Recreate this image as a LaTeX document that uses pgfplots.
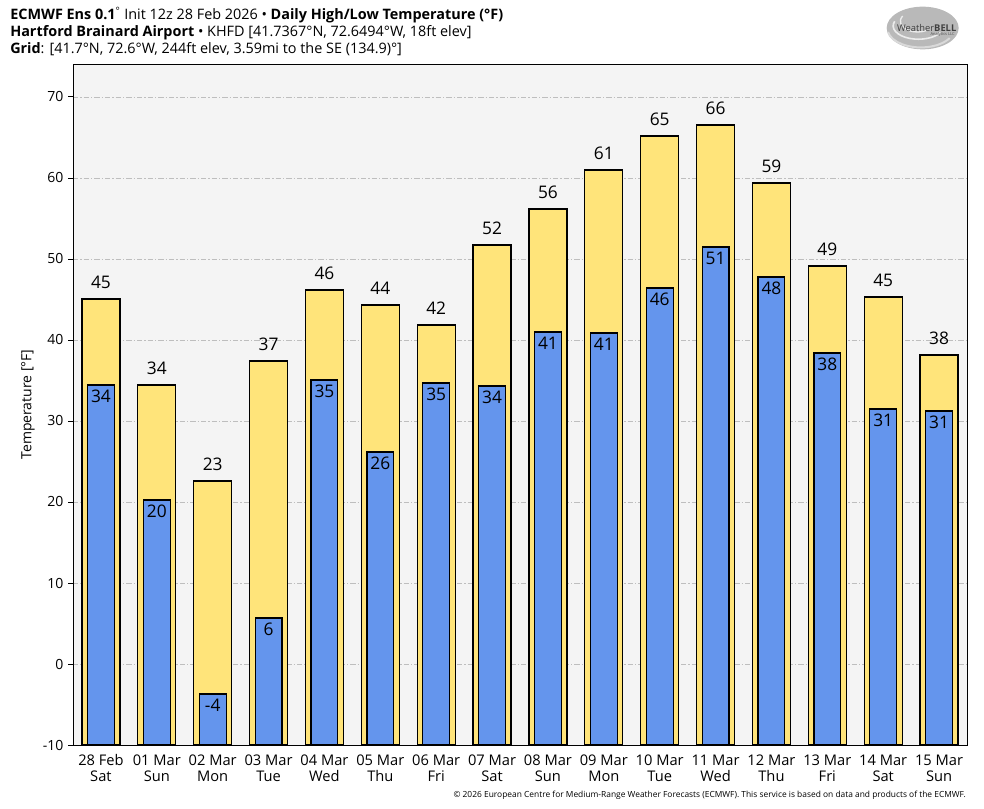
\documentclass[border=0pt]{standalone}
\usepackage{pgfplots}
\pgfplotsset{compat=1.18}
\usepackage{pgfplotstable}
\usepackage{fontspec}
\setmainfont{Open Sans}

\definecolor{hiyellow}{RGB}{255,228,122}
\definecolor{loblue}{RGB}{100,149,237}
\definecolor{bggray}{RGB}{244,244,244}
\definecolor{gridgray}{RGB}{190,190,190}

% daily high / low, degF, with the printed labels
\pgfplotstableread{
x high low hlab llab
0 45.06 34.45 45 34
1 34.45 20.25 34 20
2 22.59 -3.70 23 -4
3 37.41 5.68 37 6
4 46.17 35.06 46 35
5 44.32 26.17 44 26
6 41.85 34.69 42 35
7 51.73 34.32 52 34
8 56.17 40.99 56 41
9 60.99 40.86 61 41
10 65.19 46.42 65 46
11 66.54 51.48 66 51
12 59.38 47.78 59 48
13 49.14 38.40 49 38
14 45.31 31.48 45 31
15 38.15 31.23 38 31
}\tempdata

\begin{document}
\begin{tikzpicture}
\useasboundingbox (0pt,0pt) rectangle (738pt,606pt);

% titles
\node[anchor=base west, inner sep=0, font=\fontsize{10.8}{12}\selectfont] at (7.5pt,591pt)
  {\textbf{ECMWF Ens 0.1}\textsuperscript{°} Init 12z 28 Feb 2026 • \textbf{Daily High/Low Temperature (°F)}};
\node[anchor=base west, inner sep=0, font=\fontsize{10.8}{12}\selectfont] at (7.5pt,578.25pt)
  {\textbf{Hartford Brainard Airport} • KHFD [41.7367°N, 72.6494°W, 18ft elev]};
\node[anchor=base west, inner sep=0, font=\fontsize{10.8}{12}\selectfont] at (7.5pt,565.5pt)
  {\textbf{Grid}: [41.7°N, 72.6°W, 244ft elev, 3.59mi to the SE (134.9)°]};

% logo
\begin{scope}[shift={(692pt,585pt)}]
  \fill[gray!55] (0pt,0pt) ellipse (27pt and 16pt);
  \draw[white!85!gray, line width=1.2pt] (-21pt,5pt) arc (160:330:19pt and 10pt);
  \draw[white!85!gray, line width=1pt] (-15pt,9pt) arc (150:300:13pt and 8pt);
  \draw[gray!30, line width=1.5pt] (-26pt,-3pt) arc (190:330:25pt and 14pt);
  \node[font=\fontsize{7}{8}\selectfont, text=black!75] at (3pt,0pt) {W\textsc{eather}\textbf{BELL}};
  \node[font=\fontsize{3}{3}\selectfont, text=black!70] at (15pt,-5pt) {Analytics LLC};
\end{scope}

\begin{axis}[
    at={(54.75pt,47.25pt)}, anchor=south west,
    scale only axis,
    width=670.5pt, height=510.75pt,
    xmin=-0.5, xmax=15.5,
    ymin=0, ymax=84.07,
    axis background/.style={fill=bggray},
    axis line style={black, line width=0.6pt},
    xtick={0,...,15},
    xticklabels={{28 Feb\\Sat},{01 Mar\\Sun},{02 Mar\\Mon},{03 Mar\\Tue},{04 Mar\\Wed},{05 Mar\\Thu},{06 Mar\\Fri},{07 Mar\\Sat},{08 Mar\\Sun},{09 Mar\\Mon},{10 Mar\\Tue},{11 Mar\\Wed},{12 Mar\\Thu},{13 Mar\\Fri},{14 Mar\\Sat},{15 Mar\\Sun}},
    xticklabel style={align=center, font=\fontsize{11}{12}\selectfont},
    xtick style={draw=none},
    ytick={0,10,...,80},
    yticklabels={-10,0,10,20,30,40,50,60,70},
    yticklabel style={font=\fontsize{10.5}{12}\selectfont},
    ytick pos=left,
    tick align=outside,
    major tick length=3.75pt,
    ytick style={black, line width=0.7pt},
    ymajorgrids,
    major grid style={gridgray, dash pattern=on 4pt off 1.5pt on 1pt off 1.5pt, line width=0.6pt},
    ylabel={Temperature [°F]},
    ylabel style={at={(axis description cs:-0.0503,0.5)}, anchor=center, font=\fontsize{10.5}{12}\selectfont},
    /pgf/number format/assume math mode=true,
    clip=false,
]
% highs (bars start at the bottom of the axis, -10 F)
\addplot[ybar, bar width=0.68, bar shift=0pt, fill=hiyellow, draw=black, line width=0.9pt,
    point meta=explicit symbolic, nodes near coords,
    nodes near coords style={anchor=south, yshift=4pt, font=\fontsize{13}{13}\selectfont, text=black}]
    table[x=x, y expr=\thisrow{high}+10, meta=hlab] {\tempdata};
% lows
\addplot[ybar, bar width=0.48, bar shift=0pt, fill=loblue, draw=black, line width=0.9pt,
    point meta=explicit symbolic, nodes near coords,
    nodes near coords style={anchor=north, yshift=0pt, font=\fontsize{13}{13}\selectfont, text=black}]
    table[x=x, y expr=\thisrow{low}+10, meta=llab] {\tempdata};
\end{axis}

\node[anchor=base east, inner sep=0, font=\fontsize{6.3}{7}\selectfont] at (724.5pt,8.25pt)
  {© 2026 European Centre for Medium-Range Weather Forecasts (ECMWF). This service is based on data and products of the ECMWF.};
\end{tikzpicture}
\end{document}
